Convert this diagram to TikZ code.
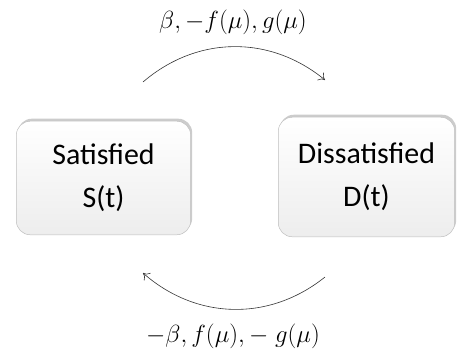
\documentclass[tikz,border=0pt]{standalone}
\usepackage{fontspec}
\setmainfont{Carlito}
\usetikzlibrary{arrows.meta,shadows}

\tikzset{
  statebox/.style={draw=black!25, line width=0.5, rounded corners=14,
    top color=white, middle color=white, bottom color=black!7,
    drop shadow={opacity=0.4, shadow xshift=1.5, shadow yshift=-2.5},
    align=center, font=\fontsize{30}{43}\selectfont},
  flow/.style={-{To[length=6,width=10]}, line width=0.6, black!80},
  rate/.style={font=\fontsize{26}{30}\selectfont}
}

\begin{document}
\begin{tikzpicture}[x=1bp,y=-1bp]
\useasboundingbox (0,0) rectangle (457,362);

% states
\node[statebox, minimum width=175, minimum height=114] (sat) at (103.5,178) {Satisfied\\S(t)};
\node[statebox, minimum width=177, minimum height=120] (dis) at (366.5,177) {Dissatisfied\\D(t)};

% ends of the transitions
\coordinate (ts) at (143,82);
\coordinate (te) at (325,80);
\coordinate (bs) at (325,277);
\coordinate (be) at (143,273);

\draw[flow] (ts) to[bend left=40] (te);
\draw[flow] (bs) to[bend left=40] (be);

% rates
\node[rate] (fwd) at (233,22) {$\beta, -f(\mu), g(\mu)$};
\node[rate] (bwd) at (233,336) {$-\beta, f(\mu), -\;g(\mu)$};

\end{tikzpicture}
\end{document}
